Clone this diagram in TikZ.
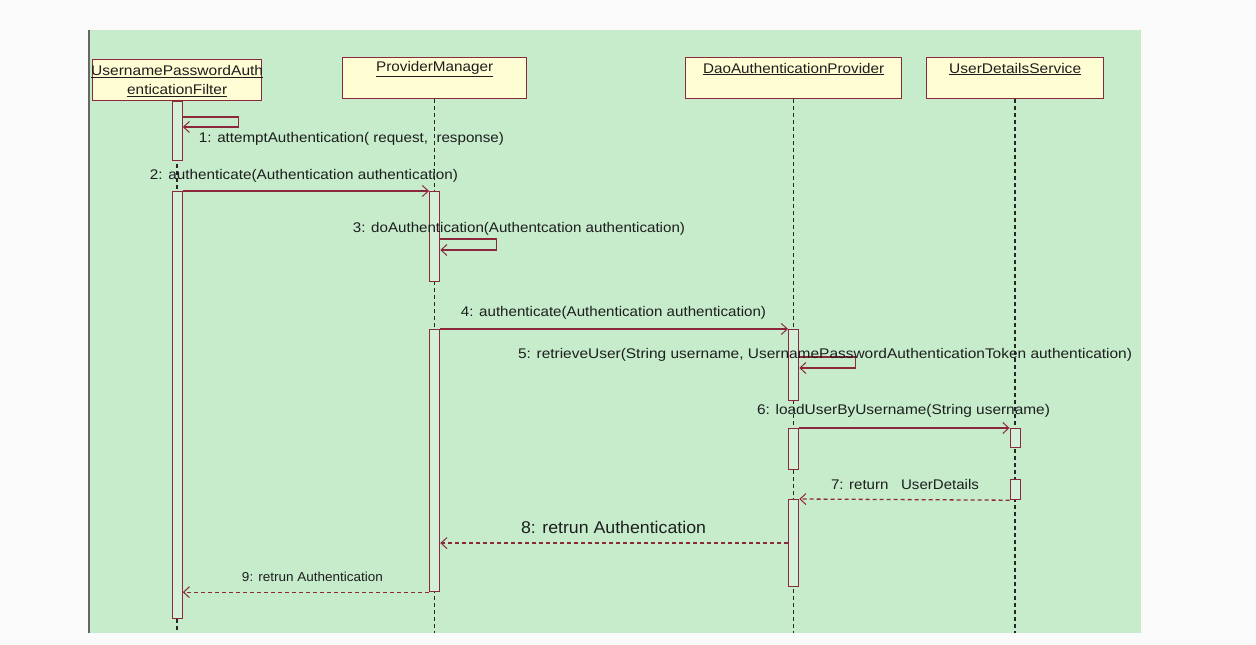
\documentclass[tikz,border=0pt]{standalone}
\usepackage{fontspec}
\setmainfont{Liberation Sans}
\usetikzlibrary{arrows.meta,calc}
\definecolor{bg}{RGB}{198,236,204}
\definecolor{page}{RGB}{250,250,250}
\definecolor{dred}{RGB}{140,40,60}
\definecolor{boxfill}{RGB}{255,253,212}
\definecolor{actfill}{RGB}{212,240,216}
\definecolor{txt}{RGB}{30,30,30}
\newcommand\fitw[2]{\resizebox{#1pt}{\height}{#2}}
\begin{document}
\begin{tikzpicture}[x=1pt,y=-1pt,
  obj/.style={draw=dred, fill=boxfill, line width=1.3pt, inner sep=0pt, anchor=north west},
  act/.style={draw=dred, fill=actfill, line width=1.2pt, minimum width=10pt, inner sep=0pt, anchor=north},
  life/.style={dash pattern=on 4pt off 3pt, line width=1.4pt, black!85},
  msg/.style={draw=dred, line width=1.3pt, -{Straight Barb[length=6pt,width=11pt,line width=1pt]}},
  ret/.style={msg, dash pattern=on 4pt off 3pt},
  lbl/.style={text=txt, inner sep=0pt, font=\fontsize{14}{16}\selectfont},
  olbl/.style={text=txt, inner sep=0pt, font=\fontsize{14}{19}\selectfont, align=center}]
\useasboundingbox (0,0) rectangle (1256,645);
\fill[page] (0,0) rectangle (1256,645);
\fill[bg] (89,30) rectangle (1141,633);
\draw[black!60, line width=1.2pt] (89,30) -- (89,633);

% objects
\node[obj, minimum width=169pt, minimum height=41pt] (f) at (92,59) {};
\node[obj, minimum width=184pt, minimum height=41pt] (pm) at (342,57) {};
\node[obj, minimum width=216pt, minimum height=41pt] (dao) at (685,57) {};
\node[obj, minimum width=177pt, minimum height=41pt] (uds) at (926,57) {};
\node[olbl] (ft) at ($(f.center)+(0,1)$) {\fitw{172}{\underline{UsernamePasswordAuth}}\\\fitw{100}{\underline{enticationFilter}}};
\node[lbl, anchor=center] (pmt) at ($(pm.north)+(0,12)$) {\fitw{117}{\underline{ProviderManager}}};
\node[lbl, anchor=center] (daot) at ($(dao.north)+(0,12)$) {\fitw{181}{\underline{DaoAuthenticationProvider}}};
\node[lbl, anchor=center] (udst) at ($(uds.north)+(0,12)$) {\fitw{132}{\underline{UserDetailsService}}};

% lifelines
\coordinate (fend) at (f.south |- 0,633);
\coordinate (pmend) at (pm.south |- 0,633);
\coordinate (daoend) at (dao.south |- 0,633);
\coordinate (udsend) at (uds.south |- 0,633);
\draw[life] (f.south) -- (fend);
\draw[life] (pm.south) -- (pmend);
\draw[life] (dao.south) -- (daoend);
\draw[life] (uds.south) -- (udsend);

% activations
\node[act, minimum height=59pt] (a1) at (f.south |- 0,101) {};
\node[act, minimum height=427pt] (a2) at (f.south |- 0,191) {};
\node[act, minimum height=90pt] (a3) at (pm.south |- 0,191) {};
\node[act, minimum height=262pt] (a4) at (pm.south |- 0,329) {};
\node[act, minimum height=71pt] (a5) at (dao.south |- 0,329) {};
\node[act, minimum height=41pt] (a6) at (dao.south |- 0,428) {};
\node[act, minimum height=19pt] (a7) at (uds.south |- 0,428) {};
\node[act, minimum height=20pt] (a8) at (uds.south |- 0,479) {};
\node[act, minimum height=87pt] (a9) at (dao.south |- 0,499) {};

% messages
\draw[msg] ($(a1.north east)+(0,16)$) -- ++(56,0) -- ++(0,10) -- ($(a1.north east)+(0,26)$);
\draw[msg] (a2.north east) -- (a3.north west);
\draw[msg] ($(a3.north east)+(0,48)$) -- ++(56,0) -- ++(0,11) -- ($(a3.north east)+(0,59)$);
\draw[msg] (a4.north east) -- (a5.north west);
\draw[msg] ($(a5.north east)+(0,28)$) -- ++(56,0) -- ++(0,11) -- ($(a5.north east)+(0,39)$);
\draw[msg] (a6.north east) -- (a7.north west);
\draw[ret] (a8.south west) -- (a9.north east);
\draw[ret] (a9.west) -- (a4.east |- a9.west);
\draw[ret] (a4.south west) -- (a2.east |- a4.south west);

% labels
\node[lbl] (l1) at (351.5,139) {\fitw{305}{1: attemptAuthentication( request,\ \ response)}};
\node[lbl] (l2) at (304,176) {\fitw{308}{2: authenticate(Authentication authentication)}};
\node[lbl] (l3) at (519,229) {\fitw{332}{3: doAuthentication(Authentcation authentication)}};
\node[lbl] (l4) at (613.5,313) {\fitw{305}{4: authenticate(Authentication authentication)}};
\node[lbl] (l5) at (825,355) {\fitw{614}{5: retrieveUser(String username, UsernamePasswordAuthenticationToken authentication)}};
\node[lbl] (l6) at (903.5,411) {\fitw{293}{6: loadUserByUsername(String username)}};
\node[lbl] (l7) at (905,484) {\fitw{148}{7: return\ \ \ UserDetails}};
\node[lbl, font=\fontsize{17}{19}\selectfont] (l8) at (613.5,527) {\fitw{185}{8: retrun Authentication}};
\node[lbl, font=\fontsize{13}{15}\selectfont] (l9) at (312.5,577) {\fitw{141}{9: retrun Authentication}};
\end{tikzpicture}
\end{document}
